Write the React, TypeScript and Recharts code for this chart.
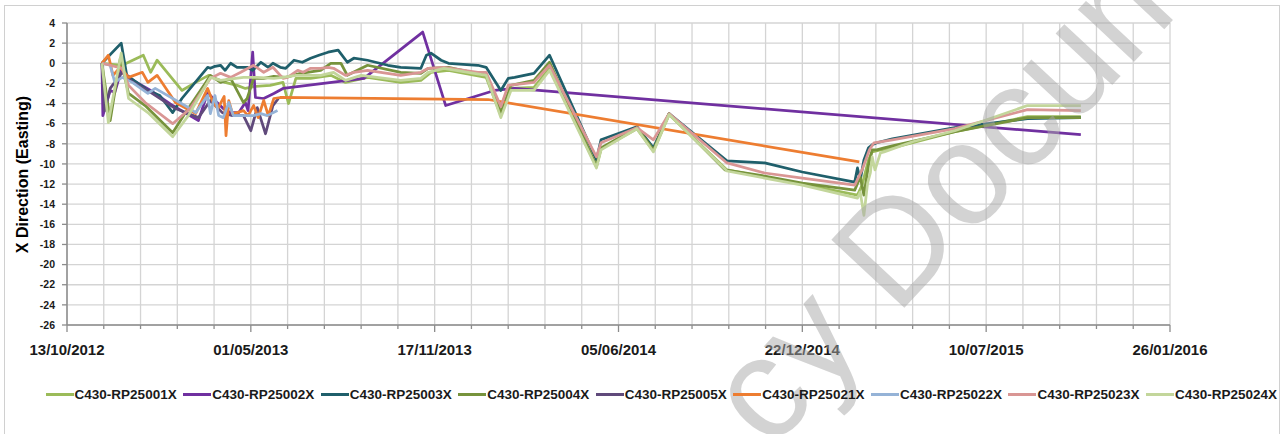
import React from 'react';
import { LineChart, Line, XAxis, YAxis, CartesianGrid } from 'recharts';

// X values are Excel date serials (41195 = 13/10/2012)
const xTickDates = [41195, 41395, 41595, 41795, 41995, 42195, 42395];
const xTickLabels = ['13/10/2012', '01/05/2013', '17/11/2013', '05/06/2014', '22/12/2014', '10/07/2015', '26/01/2016'];
const xMinorStep = 40;
const yTicks = [-26, -24, -22, -20, -18, -16, -14, -12, -10, -8, -6, -4, -2, 0, 2, 4];

const seriesNames = [
  'C430-RP25001X', 'C430-RP25002X', 'C430-RP25003X', 'C430-RP25004X', 'C430-RP25005X',
  'C430-RP25021X', 'C430-RP25022X', 'C430-RP25023X', 'C430-RP25024X',
];
const seriesColors = ['#9BBB59', '#7030A0', '#1F5F6B', '#77933C', '#604A7B', '#ED7D31', '#95B3D7', '#D99694', '#C3D69B'];

const s01: [number, number][] = [[41233,0],[41255,-0.2],[41278,0.8],[41286,-0.9],[41293,0.3],[41320,-2.7],[41335,-1.9],[41349,-1.2],[41356,-1.5],[41367,-1.9],[41380,-2.2],[41389,-2.5],[41400,-2.3],[41416,-2.2],[41430,-1.9],[41436,-4.0],[41444,-1.5],[41460,-1.5],[41482,-1.2],[41498,-1.9],[41522,-1.4],[41558,-1.9],[41580,-1.7],[41591,-0.9],[41610,-0.7],[41651,-1.4],[41667,-5.2],[41678,-2.5],[41703,-2.4],[41720,-0.5],[41771,-10.3],[41776,-8.5],[41815,-6.5],[41833,-8.7],[41850,-5.1],[41913,-10.6],[41954,-11.3],[41995,-12.0],[42055,-13.1],[42060,-12.1],[42067,-9.6],[42071,-8.8],[42080,-8.6],[42093,-8.4],[42161,-6.8],[42240,-5.3],[42298,-5.3]];
const s02: [number, number][] = [[41233,0],[41234,-5.2],[41242,-2.7],[41247,-2.9],[41254,-0.7],[41267,-1.7],[41286,-2.7],[41310,-4.2],[41338,-5.7],[41348,-2.9],[41356,-3.7],[41365,-4.5],[41373,-4.9],[41382,-4.9],[41389,-3.9],[41392,-4.7],[41397,1.1],[41400,-3.4],[41409,-3.5],[41420,-3.0],[41430,-2.5],[41518,-1.5],[41582,3.1],[41607,-4.2],[41660,-2.7],[41682,-2.5],[42298,-7.1]];
const s03: [number, number][] = [[41233,0],[41254,2.0],[41260,-1.2],[41283,-2.7],[41296,-3.2],[41310,-4.9],[41320,-3.5],[41348,-0.4],[41351,-0.5],[41356,-0.3],[41362,-0.2],[41367,-0.7],[41373,0],[41380,-0.4],[41391,-0.4],[41397,-0.7],[41406,0.1],[41414,-0.4],[41419,0],[41427,-0.4],[41433,-0.5],[41442,0.3],[41451,0.1],[41460,0.5],[41469,0.8],[41479,1.1],[41490,1.3],[41500,0.1],[41507,0.5],[41522,0.3],[41544,-0.2],[41558,-0.4],[41580,-0.5],[41586,0.8],[41591,1.0],[41602,0.3],[41610,0],[41642,-0.2],[41651,-0.4],[41667,-2.7],[41675,-1.5],[41682,-1.4],[41703,-1.0],[41720,0.8],[41771,-9.6],[41776,-7.6],[41815,-6.3],[41833,-8.4],[41850,-5.0],[41913,-9.7],[41954,-9.9],[41995,-10.8],[42052,-11.8],[42055,-10.4],[42058,-11.6],[42062,-9.6],[42067,-8.4],[42071,-8.1],[42076,-7.9],[42093,-7.5],[42161,-6.4],[42240,-5.5],[42298,-5.4]];
const s04: [number, number][] = [[41233,0],[41242,-5.7],[41253,0.5],[41262,-3.0],[41280,-4.2],[41310,-6.9],[41324,-4.9],[41346,-1.9],[41351,-1.2],[41362,-1.9],[41373,-1.5],[41387,-3.9],[41391,-3.5],[41398,-1.5],[41409,-1.5],[41420,-1.3],[41433,-1.4],[41449,-1.0],[41471,-0.7],[41482,0],[41493,0],[41500,-1.2],[41522,-0.2],[41558,-0.9],[41580,-1.0],[41588,-0.5],[41610,-0.4],[41651,-1.2],[41667,-4.9],[41678,-2.2],[41703,-1.7],[41720,0.1],[41771,-10.2],[41776,-8.4],[41815,-6.4],[41833,-8.6],[41850,-5.0],[41911,-10.6],[41954,-11.2],[41995,-11.9],[42052,-12.6],[42058,-11.3],[42062,-13.1],[42067,-10.1],[42071,-8.6],[42076,-8.6],[42084,-8.4],[42093,-8.2],[42161,-6.8],[42240,-5.4],[42298,-5.4]];
const s05: [number, number][] = [[41233,0],[41236,-4.7],[41242,-2.5],[41255,-0.9],[41267,-1.9],[41286,-2.9],[41313,-4.5],[41338,-5.4],[41351,-3.7],[41364,-4.9],[41375,-5.2],[41387,-5.2],[41395,-6.7],[41402,-4.4],[41411,-7.0],[41419,-4.2],[41425,-3.5]];
const s21: [number, number][] = [[41233,0],[41240,0.8],[41245,-1.2],[41253,-0.4],[41262,-1.4],[41277,-0.9],[41283,-1.9],[41293,-1.2],[41313,-3.9],[41335,-5.0],[41348,-2.5],[41354,-3.9],[41359,-4.5],[41366,-3.3],[41368,-7.2],[41371,-3.7],[41375,-5.0],[41380,-4.9],[41387,-4.7],[41392,-5.2],[41398,-4.2],[41403,-5.4],[41409,-3.7],[41414,-5.2],[41420,-3.5],[41427,-3.4],[41653,-3.6],[42057,-9.8]];
const s22: [number, number][] = [[41233,0],[41242,-0.2],[41247,-1.9],[41255,-1.4],[41266,-1.9],[41283,-3.0],[41291,-2.5],[41327,-4.4],[41335,-4.9],[41348,-3.2],[41351,-5.0],[41356,-3.2],[41360,-5.2],[41365,-5.4],[41371,-3.9],[41376,-5.2],[41384,-5.2],[41398,-5.2],[41406,-5.0],[41413,-5.2],[41424,-4.7]];
const s23: [number, number][] = [[41233,0],[41242,-0.2],[41255,-0.5],[41262,-2.2],[41280,-3.9],[41310,-6.0],[41329,-4.5],[41346,-2.2],[41351,-1.5],[41362,-1.0],[41373,-1.4],[41384,-0.9],[41398,-0.2],[41409,-0.9],[41419,-0.4],[41430,-1.5],[41435,-1.4],[41446,-0.7],[41452,-0.9],[41460,-0.5],[41471,-0.5],[41479,-0.4],[41485,-0.5],[41498,-1.2],[41507,-0.9],[41522,-0.7],[41558,-1.2],[41580,-0.9],[41588,-0.5],[41605,-0.4],[41642,-0.9],[41651,-0.9],[41667,-4.3],[41675,-2.2],[41703,-1.9],[41720,-0.2],[41771,-9.3],[41776,-7.9],[41815,-6.4],[41833,-7.6],[41850,-5.0],[41913,-9.9],[41954,-10.9],[41995,-11.4],[42052,-12.1],[42060,-10.6],[42068,-8.6],[42073,-7.9],[42093,-7.6],[42161,-6.5],[42240,-4.6],[42298,-4.7]];
const s24: [number, number][] = [[41233,0],[41240,-5.9],[41254,1.0],[41262,-3.5],[41283,-4.9],[41310,-7.3],[41327,-5.2],[41346,-2.2],[41351,-1.4],[41362,-1.7],[41387,-1.4],[41402,-1.4],[41420,-1.5],[41430,-1.4],[41444,-1.2],[41460,-1.2],[41471,-1.2],[41485,-0.9],[41498,-1.7],[41515,-1.2],[41558,-1.7],[41580,-1.5],[41588,-0.9],[41605,-0.5],[41651,-1.2],[41667,-5.4],[41678,-2.7],[41703,-2.7],[41720,-0.7],[41771,-10.4],[41776,-8.6],[41815,-6.5],[41833,-8.8],[41850,-5.1],[41913,-10.7],[41954,-11.4],[41995,-12.1],[42055,-13.4],[42058,-12.8],[42062,-15.1],[42066,-11.9],[42069,-10.9],[42071,-9.3],[42074,-10.6],[42080,-8.9],[42084,-8.8],[42115,-7.8],[42161,-6.7],[42240,-4.2],[42298,-4.2]];

const seriesData = [s01, s02, s03, s04, s05, s21, s22, s23, s24];

const X_START = xTickDates[0];
const X_END = xTickDates[xTickDates.length - 1];
const xGridTicks: number[] = [];
for (let d = X_START; d <= X_END; d += xMinorStep) xGridTicks.push(d);

const FONT = '"Liberation Sans", Arial, sans-serif';
const AXIS_COLOR = '#8C8C8C';

const XTick = (props: any) => {
  const { x, y, payload } = props;
  const idx = xTickDates.indexOf(payload.value);
  const major = idx >= 0;
  return (
    <g>
      <line x1={x} x2={x} y1={y} y2={y + (major ? 7 : 4)} stroke={AXIS_COLOR} strokeWidth={1.3} />
      {major && (
        <text x={x} y={y + 30} textAnchor="middle" fontFamily={FONT} fontSize={15} fontWeight="bold" fill="#1a1a1a">
          {xTickLabels[idx]}
        </text>
      )}
    </g>
  );
};

export default function App() {
  const legendLeft = 45.6;
  const legendPitch = 137.55;
  return (
    <div style={{ position: 'absolute', left: 0, top: 0, width: 1283, height: 434, background: '#fff', overflow: 'hidden', fontFamily: FONT }}>
      <div style={{ position: 'absolute', left: 4, top: 5, width: 1276, height: 460, border: '1px solid #D0D0D0', boxSizing: 'border-box' }} />
      <LineChart width={1283} height={434} margin={{ top: 23, right: 113, bottom: 0, left: 0 }} style={{ position: 'absolute', left: 0, top: 0 }}>
        <CartesianGrid stroke="#D4D4D4" strokeWidth={1.3} />
        <XAxis
          dataKey="d"
          type="number"
          domain={[X_START, X_END]}
          ticks={xGridTicks}
          interval={0}
          allowDataOverflow
          height={109}
          tickSize={0}
          tickMargin={0}
          tickLine={false}
          tick={<XTick />}
          axisLine={{ stroke: AXIS_COLOR, strokeWidth: 1.5 }}
        />
        <YAxis
          type="number"
          domain={[-26, 4]}
          ticks={yTicks}
          interval={0}
          allowDataOverflow
          width={67}
          tickSize={5}
          tickMargin={7}
          tickLine={{ stroke: AXIS_COLOR, strokeWidth: 1.3 }}
          axisLine={{ stroke: AXIS_COLOR, strokeWidth: 1.5 }}
          tick={{ fontSize: 10.5, fontWeight: 'bold', fill: '#1a1a1a', fontFamily: FONT }}
        />
        {seriesNames.map((name, i) => (
          <Line
            key={name}
            name={name}
            data={seriesData[i].map(([d, v]) => ({ d, v }))}
            dataKey="v"
            type="linear"
            stroke={seriesColors[i]}
            strokeWidth={2.75}
            strokeLinejoin="round"
            dot={false}
            activeDot={false}
            isAnimationActive={false}
          />
        ))}
      </LineChart>
      <svg width={1283} height={434} style={{ position: 'absolute', left: 0, top: 0, pointerEvents: 'none' }}>
        <text
          x={0}
          y={0}
          transform="translate(22,174.5) rotate(-90)"
          textAnchor="middle"
          dominantBaseline="central"
          fontFamily={FONT}
          fontSize={16}
          fontWeight="bold"
          fill="#000"
        >
          X Direction (Easting)
        </text>
        <text
          x={0}
          y={0}
          transform="translate(770,452) rotate(-47)"
          fontFamily={FONT}
          fontSize={145}
          fill="#A8A8A8"
          fillOpacity={0.5}
        >
          cy Document
        </text>
      </svg>
      {seriesNames.map((name, i) => (
        <div
          key={name}
          style={{ position: 'absolute', left: legendLeft + i * legendPitch, top: 386, height: 16, display: 'flex', alignItems: 'center', whiteSpace: 'nowrap' }}
        >
          <div style={{ width: 28, height: 3, background: seriesColors[i], marginRight: 1 }} />
          <span style={{ fontSize: 13.5, fontWeight: 'bold', color: '#1a1a1a', fontFamily: FONT }}>{name}</span>
        </div>
      ))}
    </div>
  );
}
